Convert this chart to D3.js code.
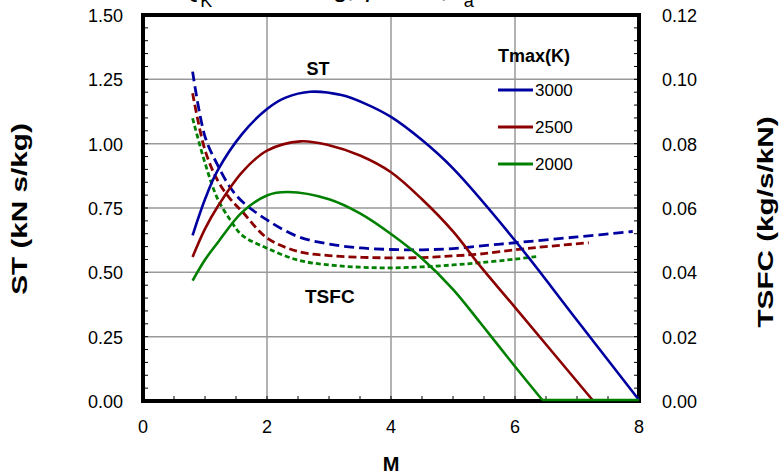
<!DOCTYPE html>
<html>
<head>
<meta charset="utf-8">
<script src="https://cdn.jsdelivr.net/npm/d3@7"></script>
<style>
  body { margin: 0; background: #fff; }
  svg { font-family: Arial, "Liberation Sans", sans-serif; }
</style>
</head>
<body>
<svg id="chart" width="782" height="475"></svg>
<script>
// Mach numbers and values
const tmaxLabels = ['3000', '2500', '2000'];
const colors = ['#0000a0', '#8b0000', '#008000'];

const stM_3000 = [0.8, 1.0, 1.2, 1.6, 2.0, 2.3, 2.7, 3.2, 3.6, 4.0, 4.5, 5.0, 6.0, 7.0, 8.0];
const st_3000 = [0.64, 0.78, 0.89, 1.034, 1.131, 1.175, 1.198, 1.185, 1.15, 1.10, 1.01, 0.90, 0.62, 0.31, 0.0];
const stM_2500 = [0.8, 1.0, 1.2, 1.6, 2.0, 2.54, 3.0, 3.5, 4.0, 4.5, 5.0, 5.44, 6.0, 7.25];
const st_2500 = [0.556, 0.665, 0.75, 0.886, 0.969, 1.005, 0.99, 0.95, 0.885, 0.78, 0.655, 0.52, 0.36, 0.0];
const stM_2000 = [0.8, 1.0, 1.2, 1.6, 2.0, 2.34, 3.0, 3.5, 4.0, 4.5, 5.0, 5.44, 6.0, 6.44, 8.0];
const st_2000 = [0.464, 0.545, 0.61, 0.73, 0.795, 0.808, 0.78, 0.725, 0.645, 0.55, 0.43, 0.30, 0.13, 0.0, 0.0];

const tsM_3000 = [0.8, 1.0, 1.2, 1.4, 1.6, 2.0, 2.5, 3.0, 3.5, 4.0, 4.5, 5.0, 5.6, 6.0, 7.0, 7.9];
const ts_3000 = [0.1024, 0.0822, 0.0735, 0.0666, 0.062, 0.0563, 0.0511, 0.0488, 0.0476, 0.0471, 0.047, 0.0474, 0.0485, 0.0492, 0.051, 0.0527];
const tsM_2500 = [0.8, 1.0, 1.2, 1.4, 1.6, 2.0, 2.5, 3.0, 3.5, 4.0, 4.5, 5.0, 5.44, 6.0, 6.5, 7.19];
const ts_2500 = [0.0957, 0.078, 0.0687, 0.063, 0.0589, 0.0507, 0.0465, 0.0452, 0.0447, 0.0445, 0.0446, 0.0451, 0.0457, 0.047, 0.048, 0.0492];
const tsM_2000 = [0.8, 1.0, 1.2, 1.4, 1.6, 2.0, 2.5, 3.0, 3.5, 4.0, 4.5, 5.0, 5.44, 6.0, 6.35];
const ts_2000 = [0.0879, 0.074, 0.063, 0.0565, 0.0515, 0.0475, 0.0438, 0.0423, 0.0416, 0.0414, 0.0417, 0.0423, 0.043, 0.0441, 0.0449];

const xTicks = [0, 2, 4, 6, 8];
const yTicks = [0, 0.25, 0.5, 0.75, 1.0, 1.25, 1.5];
const y2Ticks = [0, 0.02, 0.04, 0.06, 0.08, 0.10, 0.12];

const stSeries = [[stM_3000, st_3000], [stM_2500, st_2500], [stM_2000, st_2000]];
const tsSeries = [[tsM_3000, ts_3000], [tsM_2500, ts_2500], [tsM_2000, ts_2000]];
const dashes = ['10,5', '8,4', '5,3'];

const svg = d3.select('#chart');
const L = 143, R = 639, T = 15, B = 401;

const x = d3.scaleLinear().domain([0, 8]).range([L, R]);
const y = d3.scaleLinear().domain([0, 1.5]).range([B, T]);
const y2 = d3.scaleLinear().domain([0, 0.12]).range([B, T]);

// title sits above the top edge, only its lower part shows
const title = svg.append('text').attr('x', 180).attr('y', -3)
  .attr('font-size', 26).attr('fill', '#000');
title.append('tspan').text('Q');
title.append('tspan').attr('font-size', 18).attr('dy', 10).text('K');
title.append('tspan').attr('dy', -10).text(' = 45 MJ/kg,  γ = 1.4,T');
title.append('tspan').attr('font-size', 18).attr('dy', 10).text('a');

// grid
const grid = svg.append('g').attr('stroke', '#999').attr('stroke-width', 1.5);
grid.selectAll('.gx').data(xTicks.slice(1, -1)).enter().append('line')
  .attr('x1', d => x(d)).attr('x2', d => x(d)).attr('y1', T).attr('y2', B);
grid.selectAll('.gy').data(yTicks.slice(1, -1)).enter().append('line')
  .attr('x1', L).attr('x2', R).attr('y1', d => y(d)).attr('y2', d => y(d));

// minor ticks (inside)
const ticks = svg.append('g').attr('stroke', '#000').attr('stroke-width', 1);
ticks.selectAll('.mx').data(d3.range(0, 8.01, 0.5)).enter().append('line')
  .attr('x1', d => x(d)).attr('x2', d => x(d)).attr('y1', B).attr('y2', B - 5);
ticks.selectAll('.my').data(d3.range(0, 1.501, 0.05)).enter().append('line')
  .attr('x1', L).attr('x2', L + 5).attr('y1', d => y(d)).attr('y2', d => y(d));
ticks.selectAll('.my2').data(d3.range(0, 0.1201, 0.004)).enter().append('line')
  .attr('x1', R).attr('x2', R - 5).attr('y1', d => y2(d)).attr('y2', d => y2(d));

// frame
svg.append('rect').attr('x', L).attr('y', T).attr('width', R - L).attr('height', B - T)
  .attr('fill', 'none').attr('stroke', '#000').attr('stroke-width', 4);

// curves
const lineST = d3.line().x(d => x(d[0])).y(d => y(d[1]) - 1).curve(d3.curveCatmullRom);
const flatST = d3.line().x(d => x(d[0])).y(d => y(d[1]) - 1);
const lineTS = d3.line().x(d => x(d[0])).y(d => y2(d[1])).curve(d3.curveCatmullRom);

tsSeries.forEach((s, i) => {
  svg.append('path').datum(d3.zip(s[0], s[1]))
    .attr('d', lineTS).attr('fill', 'none')
    .attr('stroke', colors[i]).attr('stroke-width', 2.8)
    .attr('stroke-dasharray', dashes[i]);
});
stSeries.forEach((s, i) => {
  const pts = d3.zip(s[0], s[1]);
  const z = pts.findIndex(p => p[1] <= 0);
  const curved = pts.slice(0, z + 1);
  svg.append('path').datum(curved)
    .attr('d', lineST).attr('fill', 'none')
    .attr('stroke', colors[i]).attr('stroke-width', 2.6);
  if (z < pts.length - 1) {
    svg.append('path').datum(pts.slice(z))
      .attr('d', flatST).attr('fill', 'none')
      .attr('stroke', colors[i]).attr('stroke-width', 2.6);
  }
});

// tick labels
svg.selectAll('.xl').data(xTicks).enter().append('text')
  .attr('x', d => x(d)).attr('y', 433).attr('text-anchor', 'middle')
  .attr('font-size', 18).text(d => d);
svg.selectAll('.yl').data(yTicks).enter().append('text')
  .attr('x', 123).attr('y', d => y(d) + 7).attr('text-anchor', 'end')
  .attr('font-size', 18).text(d => d.toFixed(2));
svg.selectAll('.y2l').data(y2Ticks).enter().append('text')
  .attr('x', 662).attr('y', d => y2(d) + 7).attr('text-anchor', 'start')
  .attr('font-size', 18).text(d => d.toFixed(2));

// axis titles (stretched along the text, like the original)
svg.append('text').attr('x', 391).attr('y', 471).attr('text-anchor', 'middle')
  .attr('font-size', 20).attr('font-weight', 'bold').text('M');
svg.append('text').attr('transform', 'translate(27,209) rotate(-90) scale(1.35,1)').attr('text-anchor', 'middle')
  .attr('font-size', 22).attr('font-weight', 'bold').text('ST (kN s/kg)');
svg.append('text').attr('transform', 'translate(773,222) rotate(-90) scale(1.35,1)').attr('text-anchor', 'middle')
  .attr('font-size', 22).attr('font-weight', 'bold').text('TSFC (kg/s/kN)');

// in-plot labels
svg.append('text').attr('x', 318).attr('y', 75).attr('text-anchor', 'middle')
  .attr('font-size', 18).attr('font-weight', 'bold').text('ST');
svg.append('text').attr('x', 305).attr('y', 303).attr('text-anchor', 'start')
  .attr('font-size', 19).attr('font-weight', 'bold').text('TSFC');

// legend
const lg = svg.append('g');
lg.append('text').attr('x', 498).attr('y', 62).attr('font-size', 18)
  .attr('font-weight', 'bold').text('Tmax(K)');
tmaxLabels.forEach((t, i) => {
  const yy = 90 + i * 37;
  lg.append('line').attr('x1', 498).attr('x2', 533).attr('y1', yy).attr('y2', yy)
    .attr('stroke', colors[i]).attr('stroke-width', 2.8);
  lg.append('text').attr('x', 535).attr('y', yy + 6).attr('font-size', 17).text(t);
});
</script>
</body>
</html>
